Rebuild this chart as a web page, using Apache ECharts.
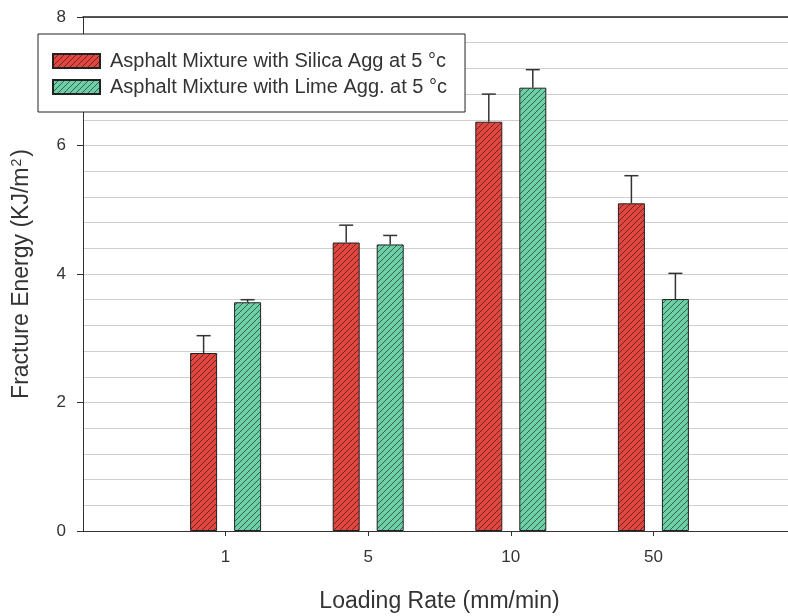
<!DOCTYPE html>
<html>
<head>
<meta charset="utf-8">
<script src="https://cdn.jsdelivr.net/npm/echarts@6/dist/echarts.min.js"></script>
<style>
  html, body { margin: 0; padding: 0; background: #ffffff; }
  #chart { width: 788px; height: 616px; }
</style>
</head>
<body>
<div id="chart"></div>
<script>
// ---- data ----
const categories = ['1', '5', '10', '50'];
const seriesNames = ['Asphalt Mixture with Silica Agg at 5 °c', 'Asphalt Mixture with Lime Agg. at 5 °c'];
const silica = [2.77, 4.49, 6.37, 5.10];
const silicaErr = [0.27, 0.27, 0.43, 0.43];
const lime = [3.56, 4.46, 6.90, 3.61];
const limeErr = [0.04, 0.14, 0.28, 0.40];
const yTicks = [0, 2, 4, 6, 8];

// ---- styles ----
const FONT = '"Liberation Sans", Arial, sans-serif';
const TEXT = '#333333';
const BAR_W = 27;
const BAR_GAP = 17;

function hatch(base) {
  const s = 6;
  const c = document.createElement('canvas');
  c.width = s; c.height = s;
  const g = c.getContext('2d');
  g.fillStyle = base;
  g.fillRect(0, 0, s, s);
  g.strokeStyle = 'rgba(20,20,20,0.6)';
  g.lineWidth = 1;
  g.beginPath();
  g.moveTo(0, s); g.lineTo(s, 0);
  g.moveTo(-1, 1); g.lineTo(1, -1);
  g.moveTo(s - 1, s + 1); g.lineTo(s + 1, s - 1);
  g.stroke();
  return { image: c, repeat: 'repeat' };
}

const axisCats = [''].concat(categories, ['']);
const pad = arr => [null].concat(arr, [null]);
const inner = idx => idx >= 1 && idx <= categories.length;

function errData(vals, errs) {
  return vals.map((v, i) => [i + 1, v, v + errs[i]]);
}

function errSeries(vals, errs, side) {
  return {
    type: 'custom',
    z: 5,
    silent: true,
    data: errData(vals, errs),
    renderItem: function (params, api) {
      const x = api.value(0);
      const p0 = api.coord([x, api.value(1)]);
      const p1 = api.coord([x, api.value(2)]);
      const off = side * (BAR_W + BAR_GAP) / 2;
      const cx = p0[0] + off;
      const st = { stroke: '#333333', lineWidth: 1.5 };
      return {
        type: 'group',
        children: [
          { type: 'line', shape: { x1: cx, y1: p0[1], x2: cx, y2: p1[1] }, style: st },
          { type: 'line', shape: { x1: cx - 7, y1: p1[1], x2: cx + 7, y2: p1[1] }, style: st }
        ]
      };
    }
  };
}

const chart = echarts.init(document.getElementById('chart'), null, { renderer: 'canvas' });
chart.setOption({
  animation: false,
  backgroundColor: '#ffffff',
  textStyle: { fontFamily: FONT, color: TEXT },
  grid: { left: 83, top: 17, width: 713, height: 514, outerBoundsMode: 'none', containLabel: false },
  legend: {
    orient: 'vertical',
    left: 38, top: 34,
    padding: [17, 18, 15, 14],
    itemGap: 6,
    itemWidth: 47, itemHeight: 14,
    icon: 'rect',
    backgroundColor: '#ffffff',
    borderColor: '#222222', borderWidth: 1,
    textStyle: { fontFamily: FONT, fontSize: 20, color: TEXT, padding: [0, 0, 0, 5] },
    data: seriesNames
  },
  xAxis: [{
    type: 'category',
    data: axisCats,
    boundaryGap: false,
    name: 'Loading Rate (mm/min)',
    nameLocation: 'middle',
    nameGap: 59,
    nameTextStyle: { fontFamily: FONT, fontSize: 23, color: TEXT },
    axisLine: { lineStyle: { color: '#333333', width: 1 } },
    axisTick: { show: true, length: 5, interval: inner, lineStyle: { color: '#333333' } },
    axisLabel: { interval: inner, margin: 18, fontFamily: FONT, fontSize: 17, color: TEXT },
    splitLine: { show: false }
  }, {
    type: 'category',
    data: axisCats,
    boundaryGap: false,
    position: 'top',
    axisLine: { show: true, lineStyle: { color: '#222222', width: 1.5 } },
    axisTick: { show: false },
    axisLabel: { show: false },
    splitLine: { show: false }
  }],
  yAxis: {
    type: 'value',
    min: yTicks[0], max: yTicks[yTicks.length - 1], interval: 2,
    name: 'Fracture Energy (KJ/m{sup|2})',
    nameLocation: 'middle',
    nameGap: 49,
    nameTextStyle: {
      fontFamily: FONT, fontSize: 23, color: TEXT,
      rich: { sup: { fontFamily: FONT, fontSize: 14, color: TEXT, verticalAlign: 'top', padding: [0, 2, 10, 1] } }
    },
    axisLine: { show: true, lineStyle: { color: '#333333', width: 1 } },
    axisTick: { show: true, length: 6, lineStyle: { color: '#333333' } },
    axisLabel: { margin: 17, fontFamily: FONT, fontSize: 17, color: TEXT },
    splitLine: { show: true, lineStyle: { color: '#cfcfcf', width: 1 } },
    minorTick: { show: false, splitNumber: 5 },
    minorSplitLine: { show: true, lineStyle: { color: '#cfcfcf', width: 1 } }
  },
  series: [{
    name: seriesNames[0],
    type: 'bar',
    data: pad(silica),
    barWidth: BAR_W,
    barGap: (BAR_GAP / BAR_W * 100) + '%',
    itemStyle: { color: hatch('#e2463e'), borderColor: '#222222', borderWidth: 1 }
  }, {
    name: seriesNames[1],
    type: 'bar',
    data: pad(lime),
    barWidth: BAR_W,
    barGap: (BAR_GAP / BAR_W * 100) + '%',
    itemStyle: { color: hatch('#6dcfa5'), borderColor: '#222222', borderWidth: 1 }
  },
  errSeries(silica, silicaErr, -1),
  errSeries(lime, limeErr, 1)]
});
</script>
</body>
</html>
